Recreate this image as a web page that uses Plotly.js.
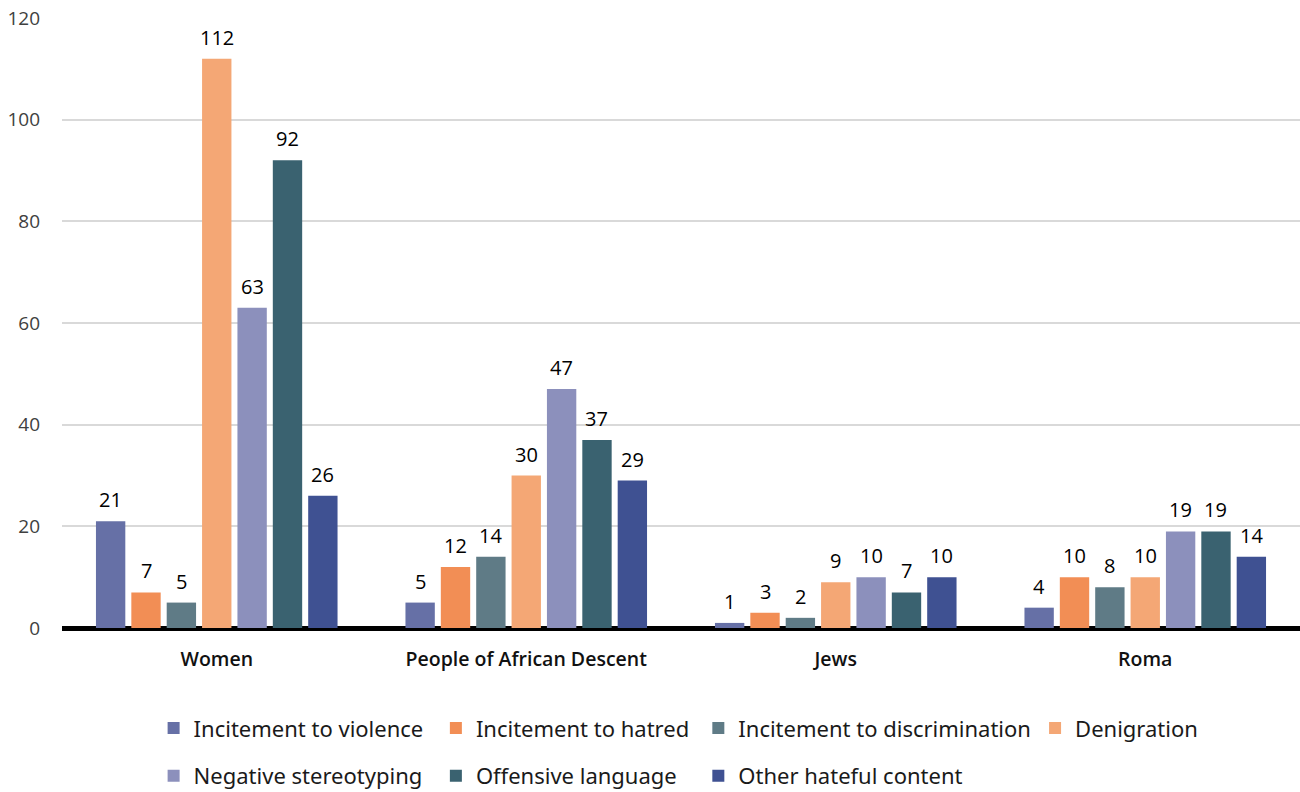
<!DOCTYPE html>
<html>
<head>
<meta charset="utf-8">
<script src="https://cdn.plot.ly/plotly-3.0.1.min.js"></script>
<style>
  html, body { margin: 0; padding: 0; background: #fff; }
  #chart { width: 1300px; height: 792px; }
</style>
</head>
<body>
<div id="chart"></div>
<script>
// Target groups along the x axis
const groups = ['Women', 'People of African Descent', 'Jews', 'Roma'];

// Content types (one bar series each)
const seriesNames = [
  'Incitement to violence',
  'Incitement to hatred',
  'Incitement to discrimination',
  'Denigration',
  'Negative stereotyping',
  'Offensive language',
  'Other hateful content'
];

// Counts per group, one array per content type
const incitementViolence = [21, 5, 1, 4];
const incitementHatred = [7, 12, 3, 10];
const incitementDiscrimination = [5, 14, 2, 8];
const denigration = [112, 30, 9, 10];
const negativeStereotyping = [63, 47, 10, 19];
const offensiveLanguage = [92, 37, 7, 19];
const otherHateful = [26, 29, 10, 14];

const seriesValues = [
  incitementViolence, incitementHatred, incitementDiscrimination,
  denigration, negativeStereotyping, offensiveLanguage, otherHateful
];

const seriesColors = ['#6670a6', '#f28e55', '#5f7b86', '#f4a775', '#8c90bc', '#3a6270', '#3f5192'];

// Legend columns: which legend each series goes into
const legendIds = ['legend', 'legend2', 'legend3', 'legend4', 'legend', 'legend2', 'legend3'];

const yTicks = [0, 20, 40, 60, 80, 100, 120];

const BARGAP = 0.2;
const nSeries = seriesNames.length;

const traces = seriesNames.map((name, i) => ({
  type: 'bar',
  name: name,
  x: groups,
  y: seriesValues[i],
  marker: { color: seriesColors[i] },
  legend: legendIds[i],
  legendgroup: 'g' + i,
  hoverinfo: 'x+y+name'
}));

// Value labels above each bar, placed at the bar's own slot within the group
const annotations = [];
seriesValues.forEach((vals, i) => {
  const offset = (i - (nSeries - 1) / 2) * (1 - BARGAP) / nSeries;
  vals.forEach((v, j) => {
    annotations.push({
      x: j + offset,
      y: v,
      xref: 'x',
      yref: 'y',
      text: String(v),
      showarrow: false,
      yanchor: 'bottom',
      yshift: 6,
      font: { family: 'Open Sans, Noto Sans, sans-serif', size: 20, color: '#000' }
    });
  });
});

const legendFont = { family: 'Noto Sans, Open Sans, sans-serif', size: 22, color: '#1a1a1a' };
const legendBase = {
  orientation: 'v',
  yanchor: 'top',
  xanchor: 'left',
  y: -0.13,
  font: legendFont,
  bgcolor: 'rgba(0,0,0,0)',
  tracegroupgap: 16,
  itemclick: false,
  itemdoubleclick: false
};

const layout = {
  width: 1300,
  height: 792,
  margin: { l: 62, r: 0, t: 18, b: 164, autoexpand: false },
  paper_bgcolor: '#ffffff',
  plot_bgcolor: '#ffffff',
  barmode: 'group',
  bargap: BARGAP,
  bargroupgap: 0.17,
  font: { family: 'Open Sans, Noto Sans, sans-serif', color: '#333' },
  xaxis: {
    type: 'category',
    showgrid: false,
    showline: false,
    ticks: '',
    ticklabelstandoff: 17,
    tickfont: { family: 'Open Sans, Noto Sans, sans-serif', size: 19.5, color: '#111', weight: 600 },
    fixedrange: true
  },
  yaxis: {
    range: [0, 120],
    tickvals: yTicks,
    ticktext: yTicks.map(String),
    showgrid: true,
    gridcolor: '#d9d9d9',
    gridwidth: 1.5,
    zeroline: true,
    zerolinecolor: '#000000',
    zerolinewidth: 5,
    showline: false,
    ticks: '',
    ticklabelstandoff: 21,
    tickfont: { family: 'Open Sans, Noto Sans, sans-serif', size: 19, color: '#404040' },
    fixedrange: true
  },
  legend: Object.assign({}, legendBase, { x: 0.074 }),
  legend2: Object.assign({}, legendBase, { x: 0.302 }),
  legend3: Object.assign({}, legendBase, { x: 0.514 }),
  legend4: Object.assign({}, legendBase, { x: 0.786 }),
  annotations: annotations,
  showlegend: true
};

Plotly.newPlot('chart', traces, layout, { displayModeBar: false, staticPlot: false });
</script>
</body>
</html>
